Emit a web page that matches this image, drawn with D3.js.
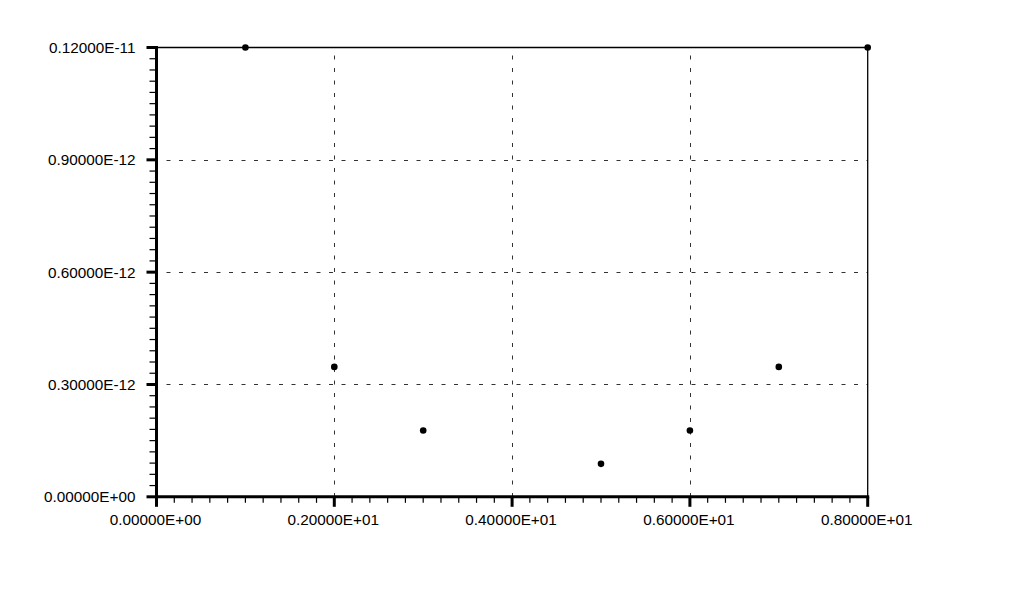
<!DOCTYPE html>
<html><head><meta charset="utf-8">
<script src="https://cdn.jsdelivr.net/npm/d3@7"></script>
<style>body{margin:0;background:#fff}svg{display:block}text{font-family:"Liberation Sans",Arial,sans-serif;font-size:15.3px;fill:#000}</style>
</head><body>
<script>
const xValues = [1, 2, 3, 5, 6, 7, 8];
const yValues = [1.2e-12, 0.347e-12, 0.177e-12, 0.088e-12, 0.177e-12, 0.347e-12, 1.2e-12];
const xTicks = [0, 2, 4, 6, 8];
const xTickLabels = ["0.00000E+00", "0.20000E+01", "0.40000E+01", "0.60000E+01", "0.80000E+01"];
const yTicks = [0, 0.3e-12, 0.6e-12, 0.9e-12, 1.2e-12];
const yTickLabels = ["0.00000E+00", "0.30000E-12", "0.60000E-12", "0.90000E-12", "0.12000E-11"];

const W = 1010, H = 610;
const L = 156.5, R = 867.7, T = 47.5, B = 496.8;
const svg = d3.select("body").append("svg").attr("width", W).attr("height", H);
const x = d3.scaleLinear().domain([0, 8]).range([L, R]);
const y = d3.scaleLinear().domain([0, 1.2e-12]).range([B, T]);

// grid
const grid = svg.append("g").attr("stroke", "#333").attr("stroke-width", 1).attr("stroke-dasharray", "4,8.5");
xTicks.slice(1, -1).forEach(v => grid.append("line").attr("x1", Math.round(x(v)) + 0.5).attr("x2", Math.round(x(v)) + 0.5).attr("y1", T + 8).attr("y2", B));
yTicks.slice(1, -1).forEach(v => grid.append("line").attr("y1", Math.round(y(v)) + 0.5).attr("y2", Math.round(y(v)) + 0.5).attr("x1", L + 10).attr("x2", R));

// frame top / right
svg.append("line").attr("x1", L).attr("x2", R).attr("y1", T).attr("y2", T).attr("stroke", "#000").attr("stroke-width", 1.3);
svg.append("line").attr("x1", R).attr("x2", R).attr("y1", T).attr("y2", B).attr("stroke", "#000").attr("stroke-width", 1.3);

// minor ticks
const yMinor = d3.range(0, 41).map(i => i * 0.03e-12);
svg.append("g").selectAll("line").data(yMinor).join("line")
  .attr("x1", L - 7).attr("x2", L).attr("y1", d => y(d)).attr("y2", d => y(d))
  .attr("stroke", "#000").attr("stroke-width", 1.2);
const xMinor = d3.range(0, 41).map(i => i * 0.2);
svg.append("g").selectAll("line").data(xMinor).join("line")
  .attr("y1", B).attr("y2", B + 6).attr("x1", d => x(d)).attr("x2", d => x(d))
  .attr("stroke", "#000").attr("stroke-width", 1.2);

// major ticks
svg.append("g").selectAll("line").data(yTicks).join("line")
  .attr("x1", L - 10).attr("x2", L).attr("y1", d => y(d)).attr("y2", d => y(d))
  .attr("stroke", "#000").attr("stroke-width", 3);
svg.append("g").selectAll("line").data(xTicks).join("line")
  .attr("y1", B).attr("y2", B + 10).attr("x1", d => x(d)).attr("x2", d => x(d))
  .attr("stroke", "#000").attr("stroke-width", 3);

// axes lines
svg.append("line").attr("x1", L).attr("x2", L).attr("y1", T - 1.5).attr("y2", B + 1.5).attr("stroke", "#000").attr("stroke-width", 3);
svg.append("line").attr("x1", L - 1.5).attr("x2", R + 1.5).attr("y1", B).attr("y2", B).attr("stroke", "#000").attr("stroke-width", 3);

// labels
svg.append("g").selectAll("text").data(yTicks).join("text")
  .attr("x", L - 21).attr("y", d => y(d)).attr("dy", "0.36em").attr("text-anchor", "end")
  .text((d, i) => yTickLabels[i]);
svg.append("g").selectAll("text").data(xTicks).join("text")
  .attr("x", d => x(d) - 1).attr("y", B + 28.5).attr("text-anchor", "middle")
  .text((d, i) => xTickLabels[i]);

// points
svg.append("g").selectAll("circle").data(xValues).join("circle")
  .attr("cx", d => x(d)).attr("cy", (d, i) => y(yValues[i])).attr("r", 3.3).attr("fill", "#000");
</script>
</body></html>
